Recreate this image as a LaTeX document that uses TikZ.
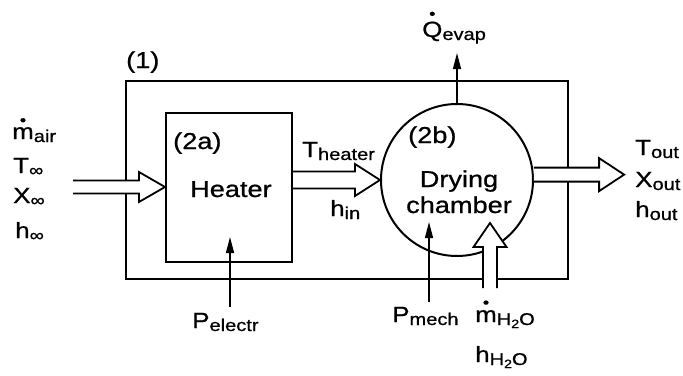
\documentclass[tikz,border=0pt]{standalone}
\usepackage{fontspec}
\usepackage{graphicx}
\setmainfont{Liberation Sans}[FakeStretch=1.18,FakeBold=0.8]
\usetikzlibrary{arrows.meta,calc}
\newcommand\lsub[1]{\raisebox{-3pt}{\fontsize{17}{17}\selectfont #1}}
\newcommand\lsubb[1]{\raisebox{-3pt}{\fontsize{12}{12}\selectfont #1}}
\newcommand\dotacc[2]{\ooalign{#2\cr\hidewidth\raisebox{#1}{\scalebox{0.7}{\textbullet}}\hidewidth\cr}}
\tikzset{
  boxline/.style={draw, line width=2pt, inner sep=0pt},
  hollow/.style={draw, fill=white, line width=1.8pt, line join=miter},
  thinarrow/.style={line width=1.5pt, -{Triangle[length=16pt,width=8pt]}},
  lbl/.style={anchor=base west, inner sep=0pt, font=\fontsize{22}{22}\selectfont},
  inlbl/.style={inner sep=0pt, font=\fontsize{23}{23}\selectfont},
}
\begin{document}
\begin{tikzpicture}[x=1pt,y=-1pt]
\useasboundingbox (0,0) rectangle (683,375);
% boxes
\node[boxline, minimum width=442pt, minimum height=198pt] (sys) at (347,180) {};
\node[boxline, minimum width=126pt, minimum height=149pt] (heater) at (229,187) {};
\node[boxline, circle, minimum size=152pt] (chamber) at (457,180) {};
% inner texts
\node[inlbl, anchor=base west] (l1) at (126,68) {(1)};
\node[inlbl, anchor=base west] (l2a) at (173,149) {(2a)};
\node[inlbl, anchor=base west] (lheat) at (190,197) {Heater};
\node[inlbl, anchor=base west] (l2b) at (408,143) {(2b)};
\node[inlbl, anchor=base] (ldry) at (459,187) {Drying};
\node[inlbl, anchor=base] (lcham) at (459,213) {chamber};
% coordinates
\coordinate (inS) at (73,187);
\path (chamber.4) ++(90.3,0) coordinate (outT);
\coordinate (mS) at (490,288);
\coordinate (mT) at (490,223);
\coordinate (peS) at (230,307);
\coordinate (peT) at (230,237);
\coordinate (pmS) at (429,302);
\coordinate (pmT) at (429,222);
\path (chamber.north) ++(0,-50) coordinate (qT);
% hollow arrows
\draw[hollow] ($(inS)+(0,-6.5)$) -- ($(heater.west)+(-26,-6.5)$) -- ($(heater.west)+(-26,-15)$)
  -- (heater.west) -- ($(heater.west)+(-26,15)$) -- ($(heater.west)+(-26,6.5)$) -- ($(inS)+(0,6.5)$);
\draw[hollow] ($(heater.east |- chamber.west)+(0,-8.5)$) -- ($(chamber.west)+(-25,-8.5)$) -- ($(chamber.west)+(-25,-16)$)
  -- (chamber.west) -- ($(chamber.west)+(-25,16)$) -- ($(chamber.west)+(-25,8.5)$) -- ($(heater.east |- chamber.west)+(0,8.5)$);
\draw[hollow] ($(chamber.4)+(0,-7)$) -- ($(outT)+(-25,-7)$) -- ($(outT)+(-25,-16.5)$)
  -- (outT) -- ($(outT)+(-25,16.5)$) -- ($(outT)+(-25,7)$) -- ($(chamber.4)+(0,7)$);
\draw[hollow] ($(mS)+(-7,0)$) -- ($(mT)+(-7,24)$) -- ($(mT)+(-16.5,24)$)
  -- (mT) -- ($(mT)+(16.5,24)$) -- ($(mT)+(7,24)$) -- ($(mS)+(7,0)$);
% thin arrows
\draw[thinarrow] (peS) -- (peT);
\draw[thinarrow] (pmS) -- (pmT);
\draw[thinarrow] (chamber.north) -- (qT);
% labels
\node[lbl] (mair) at (12,139) {\dotacc{0.62em}{m}\lsub{air}};
\node[lbl] (tinf) at (13,173) {T\lsub{∞}};
\node[lbl] (xinf) at (13,203) {X\lsub{∞}};
\node[lbl] (hinf) at (15,238) {h\lsub{∞}};
\node[lbl] (theat) at (302,157) {T\lsub{heater}};
\node[lbl] (hin) at (330,216) {h\lsub{in}};
\node[lbl] (qevap) at (422,37) {\dotacc{0.82em}{Q}\lsub{evap}};
\node[lbl] (tout) at (635,155) {T\lsub{out}};
\node[lbl] (xout) at (635,187) {X\lsub{out}};
\node[lbl] (hout) at (635,217) {h\lsub{out}};
\node[lbl] (pel) at (192,328) {P\lsub{electr}};
\node[lbl] (pme) at (392,322) {P\lsub{mech}};
\node[lbl] (mh2o) at (475,322) {\dotacc{0.65em}{m}\lsub{H\lsubb{2}O}};
\node[lbl] (hh2o) at (475,362) {h\lsub{H\lsubb{2}O}};
\end{tikzpicture}
\end{document}
